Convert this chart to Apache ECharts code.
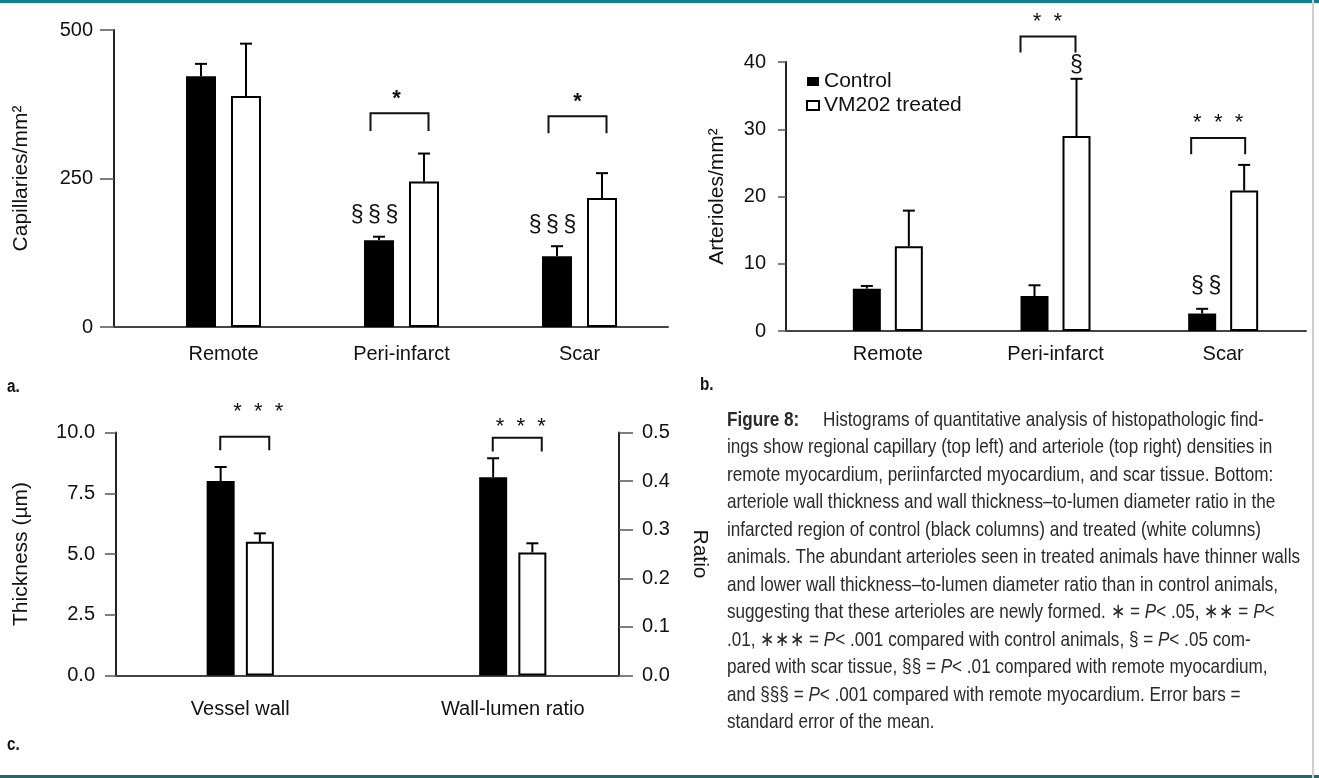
<!DOCTYPE html>
<html><head><meta charset="utf-8">
<script src="https://cdn.jsdelivr.net/npm/echarts@6/dist/echarts.min.js"></script>
<style>html,body{margin:0;padding:0;background:#fff}#c{width:1319px;height:778px}</style>
</head><body><div id="c"></div>
<script>
// ---------- data ----------
const regions = ['Remote', 'Peri-infarct', 'Scar'];
const capControl = [422, 146, 119];
const capControlErr = [443, 152, 136];
const capTreated = [389, 245, 217];
const capTreatedErr = [477, 292, 259];
const capTicks = [0, 250, 500];

const artControl = [6.3, 5.2, 2.6];
const artControlErr = [6.7, 6.8, 3.3];
const artTreated = [12.6, 29.0, 20.9];
const artTreatedErr = [17.9, 37.5, 24.7];
const artTicks = [0, 10, 20, 30, 40];

const wallCats = ['Vessel wall', 'Wall-lumen ratio'];
const thickControl = [8.0, null];
const thickControlErr = [8.58, null];
const thickTreated = [5.5, null];
const thickTreatedErr = [5.85, null];
const ratioControl = [null, 0.408];
const ratioControlErr = [null, 0.447];
const ratioTreated = [null, 0.253];
const ratioTreatedErr = [null, 0.272];
const thickTicks = [0, 2.5, 5.0, 7.5, 10.0];
const ratioTicks = [0, 0.1, 0.2, 0.3, 0.4, 0.5];

// significance marks: category, value level, text
const annA = [
  {cat: 1, y: 384, text: '*'}, {cat: 2, y: 379, text: '*'},
  {cat: 1, y: 187, text: '§\u2009§\u2009§'}, {cat: 2, y: 170, text: '§\u2009§\u2009§'}
];
const brA = [{cat: 1, top: 360, leg: 330}, {cat: 2, top: 355, leg: 326}];
const annB = [
  {cat: 1, y: 45.9, text: '*  *'}, {cat: 1, y: 39.4, text: '§'},
  {cat: 2, y: 31.0, text: '*  *  *'}, {cat: 2, y: 6.6, text: '§\u2009§'}
];
const brB = [{cat: 1, top: 43.8, leg: 41.4}, {cat: 2, top: 28.7, leg: 26.3}];
const annC1 = [{cat: 0, y: 10.85, text: '*  *  *'}];
const brC1 = [{cat: 0, top: 9.83, leg: 9.27}];
const annC2 = [{cat: 1, y: 0.512, text: '*  *  *'}];
const brC2 = [{cat: 1, top: 0.489, leg: 0.461}];

const captionLines = [
  '{b|Figure 8:}     Histograms of quantitative analysis of histopathologic find-',
  'ings show regional capillary (top left) and arteriole (top right) densities in',
  'remote myocardium, periinfarcted myocardium, and scar tissue. Bottom:',
  'arteriole wall thickness and wall thickness–to-lumen diameter ratio in the',
  'infarcted region of control (black columns) and treated (white columns)',
  'animals. The abundant arterioles seen in treated animals have thinner walls',
  'and lower wall thickness–to-lumen diameter ratio than in control animals,',
  'suggesting that these arterioles are newly formed. ∗ = {i|P}< .05, ∗∗ = {i|P}<',
  '.01, ∗∗∗ = {i|P}< .001 compared with control animals, § = {i|P}< .05 com-',
  'pared with scar tissue, §§ = {i|P}< .01 compared with remote myocardium,',
  'and §§§ = {i|P}< .001 compared with remote myocardium. Error bars =',
  'standard error of the mean.'
];

// ---------- layout / style (not data) ----------
const FONT = "'Liberation Sans', Arial, Helvetica, sans-serif";
const CAPFONT = "'Liberation Sans', Arial, sans-serif";
const FS = 20;
const CAP_FS = 21;
// per-mark horizontal offsets (px from the category centre)
const offA = {annDx: [-5, -2, -27, -27], br: [[-31, 27], [-31, 27]]};
const offB = {annDx: [-8, 21, -5, -17], br: [[-35, 20], [-32, 22]]};
const offC1 = {annDx: [18], br: [[-20, 29]]};
const offC2 = {annDx: [8], br: [[-20, 29]]};

// horizontal condensing factor for the caption (ref. font is a condensed face)
const mctx = document.createElement('canvas').getContext('2d');
mctx.font = CAP_FS + 'px ' + CAPFONT;
const capScale = 573 / mctx.measureText(captionLines[5]).width;

const chart = echarts.init(document.getElementById('c'));

const axisLineStyle = {color: '#222', width: 2};

function frameX(gi) {
  return {gridIndex: gi, type: 'value', min: 0, max: 1, axisLine: {show: true, onZero: false, lineStyle: {color: '#444', width: 2}},
    axisTick: {show: false}, axisLabel: {show: false}, splitLine: {show: false}};
}
function frameY(gi, ticks, name, nameGap, fmt, pos, tickLen, margin, rotate) {
  return {gridIndex: gi, type: 'value', position: pos || 'left',
    min: ticks[0], max: ticks[ticks.length - 1], interval: ticks[1] - ticks[0],
    axisLine: {show: true, lineStyle: axisLineStyle},
    axisTick: {show: true, length: tickLen, lineStyle: {color: '#555', width: 1.5}},
    axisLabel: {fontSize: FS, fontFamily: FONT, color: '#111', margin: margin, formatter: fmt},
    splitLine: {show: false},
    name: name, nameLocation: 'middle', nameGap: nameGap, nameRotate: rotate,
    nameTextStyle: {fontSize: FS + 1, fontFamily: FONT, color: '#111'}};
}
function dataX(gi, cats, margin, show) {
  return {gridIndex: gi, type: 'category', data: cats, axisLine: {show: false}, axisTick: {show: false},
    axisLabel: {show: show !== false, fontSize: FS, fontFamily: FONT, color: '#111', margin: margin}, splitLine: {show: false}};
}
function dataY(gi, ticks) {
  return {gridIndex: gi, type: 'value', min: ticks[0], max: ticks[ticks.length - 1], show: false, splitLine: {show: false}};
}
function bars(name, vals, xi, yi, bw, gap, treated) {
  return {name: name, type: 'bar', xAxisIndex: xi, yAxisIndex: yi, data: vals.map(v => v === null ? '-' : v),
    barWidth: bw, barGap: gap, animation: false, silent: true,
    itemStyle: treated ? {color: '#fff', borderColor: '#000', borderWidth: 2} : {color: '#000'}};
}
function errBars(means, tops, xi, yi, dx, cap) {
  const d = [];
  means.forEach((m, i) => { if (m !== null) d.push([i, m, tops[i]]); });
  return {type: 'custom', xAxisIndex: xi, yAxisIndex: yi, data: d, z: 5, animation: false, silent: true,
    renderItem: function (p, api) {
      const a = api.coord([api.value(0), api.value(1)]);
      const b = api.coord([api.value(0), api.value(2)]);
      const x = a[0] + dx;
      return {type: 'group', children: [
        {type: 'line', shape: {x1: x, y1: a[1], x2: x, y2: b[1]}, style: {stroke: '#000', lineWidth: 2}},
        {type: 'line', shape: {x1: x - cap, y1: b[1], x2: x + cap, y2: b[1]}, style: {stroke: '#000', lineWidth: 2}}
      ]};
    }};
}
function brackets(list, offs, xi, yi) {
  return {type: 'custom', xAxisIndex: xi, yAxisIndex: yi, data: list.map(b => [b.cat, b.top, b.leg]), z: 5,
    animation: false, silent: true,
    renderItem: function (p, api) {
      const t = api.coord([api.value(0), api.value(1)]);
      const l = api.coord([api.value(0), api.value(2)]);
      const o = offs[p.dataIndex];
      const x1 = t[0] + o[0], x2 = t[0] + o[1];
      return {type: 'polyline', shape: {points: [[x1, l[1]], [x1, t[1]], [x2, t[1]], [x2, l[1]]]},
        style: {stroke: '#111', lineWidth: 2, fill: null}};
    }};
}
function marks(list, dxs, xi, yi) {
  return {type: 'custom', xAxisIndex: xi, yAxisIndex: yi, data: list.map(a => [a.cat, a.y]), z: 6,
    animation: false, silent: true,
    renderItem: function (p, api) {
      const c = api.coord([api.value(0), api.value(1)]);
      const item = list[p.dataIndex];
      const isSec = item.text.indexOf('§') >= 0;
      const single = item.text === '*';
      return {type: 'text', x: c[0] + dxs[p.dataIndex], y: c[1],
        style: {text: item.text, align: 'center', verticalAlign: 'middle', fill: '#111',
          fontFamily: FONT, fontSize: isSec ? 23 : 22, fontWeight: single ? 'bold' : 'normal'}};
    }};
}

const grids = [
  {left: 114, top: 30, width: 554, height: 297},   // 0 frame a
  {left: 134.5, top: 30, width: 534, height: 297}, // 1 data a
  {left: 786, top: 62, width: 520, height: 269},   // 2 frame b
  {left: 804, top: 62, width: 503, height: 269},   // 3 data b
  {left: 116, top: 432.5, width: 503, height: 243},// 4 frame c
  {left: 104, top: 432.5, width: 545, height: 243} // 5 data c
].map(g => Object.assign({containLabel: false, outerBoundsMode: 'none'}, g));

const fmt1 = v => v.toFixed(1);

const option = {
  backgroundColor: '#fff',
  animation: false,
  grid: grids,
  legend: {show: true, orient: 'vertical', left: 801, top: 66, itemWidth: 12, itemHeight: 9, itemGap: 3,
    icon: 'rect', selectedMode: false, data: ['Control', 'VM202 treated'],
    textStyle: {fontSize: FS + 1, fontFamily: FONT, color: '#111'}},
  xAxis: [
    frameX(0), dataX(1, regions, 17),
    frameX(2), dataX(3, regions, 13),
    frameX(4), dataX(5, wallCats, 24), dataX(5, wallCats, 24, false)
  ],
  yAxis: [
    frameY(0, capTicks, 'Capillaries/mm²', 82, null, 'left', 14, 21),
    dataY(1, capTicks),
    frameY(2, artTicks, 'Arterioles/mm²', 58, null, 'left', 8, 20),
    dataY(3, artTicks),
    frameY(4, thickTicks, 'Thickness (µm)', 84, fmt1, 'left', 11, 21),
    frameY(4, ratioTicks, 'Ratio', 70, fmt1, 'right', 14, 23, -90),
    dataY(5, thickTicks),
    dataY(5, ratioTicks)
  ],
  series: [
    // panel a
    bars('Control', capControl, 1, 1, 30, '50%', false),
    bars('VM202 treated', capTreated, 1, 1, 30, '50%', true),
    errBars(capControl, capControlErr, 1, 1, -22.5, 6),
    errBars(capTreated, capTreatedErr, 1, 1, 22.5, 6),
    brackets(brA, offA.br, 1, 1),
    marks(annA, offA.annDx, 1, 1),
    // panel b
    bars('Control', artControl, 3, 3, 28, '50%', false),
    bars('VM202 treated', artTreated, 3, 3, 28, '50%', true),
    errBars(artControl, artControlErr, 3, 3, -21, 6),
    errBars(artTreated, artTreatedErr, 3, 3, 21, 6),
    brackets(brB, offB.br, 3, 3),
    marks(annB, offB.annDx, 3, 3),
    // panel c thickness
    bars('Control', thickControl, 5, 6, 28, '40%', false),
    bars('VM202 treated', thickTreated, 5, 6, 28, '40%', true),
    errBars(thickControl, thickControlErr, 5, 6, -19.6, 6),
    errBars(thickTreated, thickTreatedErr, 5, 6, 19.6, 6),
    brackets(brC1, offC1.br, 5, 6),
    marks(annC1, offC1.annDx, 5, 6),
    // panel c ratio
    bars('Control', ratioControl, 6, 7, 28, '40%', false),
    bars('VM202 treated', ratioTreated, 6, 7, 28, '40%', true),
    errBars(ratioControl, ratioControlErr, 6, 7, -19.6, 6),
    errBars(ratioTreated, ratioTreatedErr, 6, 7, 19.6, 6),
    brackets(brC2, offC2.br, 6, 7),
    marks(annC2, offC2.annDx, 6, 7)
  ],
  graphic: [
    {type: 'rect', shape: {x: 0, y: 0, width: 1319, height: 3}, style: {fill: '#11808c'}, silent: true},
    {type: 'rect', shape: {x: 0, y: 775, width: 1319, height: 3}, style: {fill: '#1d6b6e'}, silent: true},
    {type: 'rect', shape: {x: 1312, y: 0, width: 2, height: 778}, style: {fill: '#cfcfcf'}, silent: true},
    {type: 'text', x: 7, y: 387, scaleX: 0.85, style: {text: 'a.', fontFamily: FONT, fontWeight: 'bold', fontSize: 18, fill: '#111', verticalAlign: 'middle'}},
    {type: 'text', x: 700, y: 385, scaleX: 0.85, style: {text: 'b.', fontFamily: FONT, fontWeight: 'bold', fontSize: 18, fill: '#111', verticalAlign: 'middle'}},
    {type: 'text', x: 7, y: 745, scaleX: 0.85, style: {text: 'c.', fontFamily: FONT, fontWeight: 'bold', fontSize: 18, fill: '#111', verticalAlign: 'middle'}}
  ].concat(captionLines.map((t, i) => ({
    type: 'text', x: 727, y: 420 + i * 27.5, scaleX: capScale, originX: 0, silent: true,
    style: {text: t, fontFamily: CAPFONT, fontSize: CAP_FS, fill: '#2a2a2a', verticalAlign: 'middle',
      rich: {b: {fontFamily: CAPFONT, fontSize: CAP_FS, fontWeight: 'bold', fill: '#2a2a2a'},
             i: {fontFamily: CAPFONT, fontSize: CAP_FS, fontStyle: 'italic', fill: '#2a2a2a'}}}
  })))
};
chart.setOption(option);
</script></body></html>
